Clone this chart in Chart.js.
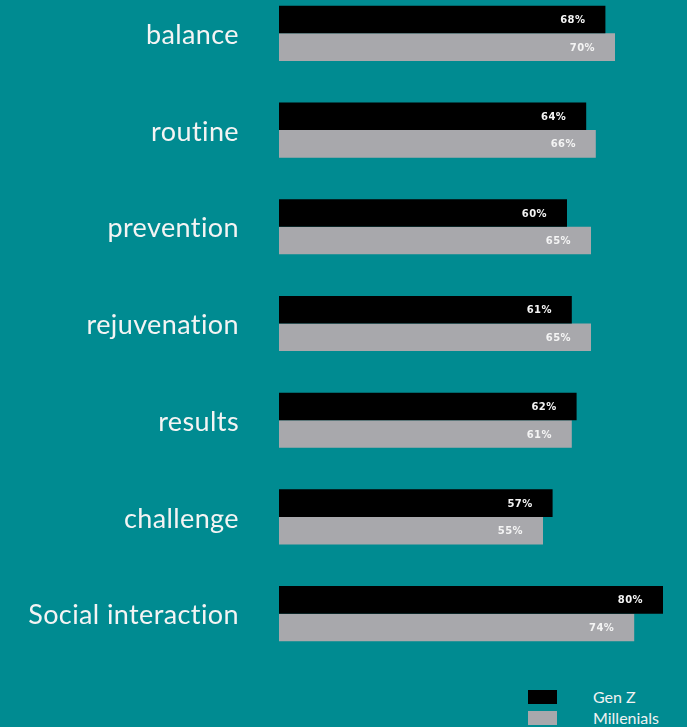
<!DOCTYPE html>
<html lang="en">
<head>
    <meta charset="UTF-8">
    <title>Gen Z vs Millenials</title>
    <style>
        html, body { margin: 0; padding: 0; }
        body { width: 687px; height: 727px; background: #008b91; overflow: hidden; position: relative; font-family: Lato, sans-serif; }
        #wrap { position: absolute; left: 0; top: -15px; width: 687px; height: 677px; }
        #legend { position: absolute; left: 528px; top: 688px; color: #f2f2f2; font-size: 16px; }
        #legend div { height: 21px; line-height: 17px; white-space: nowrap; }
        #legend span { display: inline-block; width: 29px; height: 14px; margin-right: 36px; vertical-align: -1px; }
    </style>
</head>
<body>

    <div id="wrap">
        <canvas id="myChart"></canvas>
    </div>
    <div id="legend"></div>

    <script src="https://cdn.jsdelivr.net/npm/chart.js@4/dist/chart.umd.min.js"></script>

    <script>
        const categories = ['balance', 'routine', 'prevention', 'rejuvenation', 'results', 'challenge', 'Social interaction'];
        const genZ = [68, 64, 60, 61, 62, 57, 80];
        const millenials = [70, 66, 65, 65, 61, 55, 74];
        const seriesNames = ['Gen Z', 'Millenials'];
        const seriesColors = ['#000000', '#a8a8ac'];

        // a little letter spacing (also keeps Lato from joining "ti")
        const spacing = {
            id: 'spacing',
            beforeDraw(chart) { chart.ctx.letterSpacing = '0.4px'; }
        };

        // draws "68%" inside the end of every bar
        const barLabels = {
            id: 'barLabels',
            afterDatasetsDraw(chart) {
                const ctx = chart.ctx;
                ctx.save();
                ctx.font = 'bold 10px "DejaVu Sans"';
                ctx.fillStyle = '#f4f4f4';
                ctx.textAlign = 'right';
                ctx.textBaseline = 'middle';
                chart.data.datasets.forEach((ds, i) => {
                    chart.getDatasetMeta(i).data.forEach((bar, j) => {
                        ctx.fillText(ds.data[j] + '%', bar.x - 20, bar.y + 1);
                    });
                });
                ctx.restore();
            }
        };

        const ctx = document.getElementById('myChart').getContext('2d');

        const chart = new Chart(ctx, {
            type: 'bar',
            data: {
                labels: categories,
                datasets: [{
                    label: seriesNames[0],
                    data: genZ,
                    backgroundColor: seriesColors[0]
                }, {
                    label: seriesNames[1],
                    data: millenials,
                    backgroundColor: seriesColors[1]
                }]
            },
            options: {
                indexAxis: 'y',
                responsive: true,
                maintainAspectRatio: false,
                animation: false,
                layout: { padding: 0 },
                datasets: {
                    bar: { barPercentage: 1, categoryPercentage: 0.57 }
                },
                scales: {
                    x: { display: false, min: 0, max: 85 },
                    y: {
                        grid: { display: false, drawTicks: false },
                        border: { display: false },
                        ticks: {
                            color: '#f4f4f4',
                            padding: 40,
                            labelOffset: 2,
                            font: { family: 'Lato', size: 27 }
                        },
                        afterFit(scale) {
                            scale.width = 279;
                            scale.paddingTop = 0;
                            scale.paddingBottom = 0;
                        }
                    }
                },
                plugins: {
                    legend: { display: false },
                    tooltip: { enabled: false }
                }
            },
            plugins: [spacing, barLabels]
        });

        const legend = document.getElementById('legend');
        chart.data.datasets.forEach(ds => {
            const row = document.createElement('div');
            const box = document.createElement('span');
            box.style.background = ds.backgroundColor;
            row.appendChild(box);
            row.appendChild(document.createTextNode(ds.label));
            legend.appendChild(row);
        });
    </script>

</body>
</html>
